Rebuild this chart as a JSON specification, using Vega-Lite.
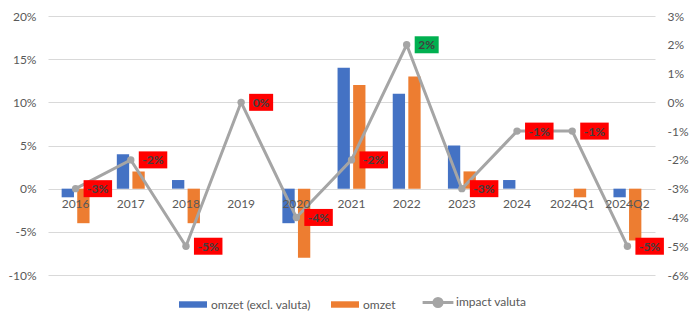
{
  "$schema": "https://vega.github.io/schema/vega-lite/v6.json",
  "width": 607,
  "height": 259,
  "autosize": {"type": "none"},
  "padding": {"left": 48, "top": 16, "right": 42, "bottom": 50},
  "background": "white",
  "config": {
    "locale": {"number": {"decimal": ".", "thousands": ",", "grouping": [3], "currency": ["€", ""], "minus": "-"}},
    "font": "Lato",
    "view": {"stroke": null},
    "axis": {"labelFont": "Lato", "labelFontSize": 12, "labelColor": "#595959", "domain": false, "ticks": false, "tickSize": 0, "title": null}
  },
  "datasets": {
    "bars": [
      {"jaar": "2016", "reeks": "omzet (excl. valuta)", "waarde": -0.01},
      {"jaar": "2016", "reeks": "omzet", "waarde": -0.04},
      {"jaar": "2017", "reeks": "omzet (excl. valuta)", "waarde": 0.04},
      {"jaar": "2017", "reeks": "omzet", "waarde": 0.02},
      {"jaar": "2018", "reeks": "omzet (excl. valuta)", "waarde": 0.01},
      {"jaar": "2018", "reeks": "omzet", "waarde": -0.04},
      {"jaar": "2019", "reeks": "omzet (excl. valuta)", "waarde": 0},
      {"jaar": "2019", "reeks": "omzet", "waarde": 0},
      {"jaar": "2020", "reeks": "omzet (excl. valuta)", "waarde": -0.04},
      {"jaar": "2020", "reeks": "omzet", "waarde": -0.08},
      {"jaar": "2021", "reeks": "omzet (excl. valuta)", "waarde": 0.14},
      {"jaar": "2021", "reeks": "omzet", "waarde": 0.12},
      {"jaar": "2022", "reeks": "omzet (excl. valuta)", "waarde": 0.11},
      {"jaar": "2022", "reeks": "omzet", "waarde": 0.13},
      {"jaar": "2023", "reeks": "omzet (excl. valuta)", "waarde": 0.05},
      {"jaar": "2023", "reeks": "omzet", "waarde": 0.02},
      {"jaar": "2024", "reeks": "omzet (excl. valuta)", "waarde": 0.01},
      {"jaar": "2024", "reeks": "omzet", "waarde": 0},
      {"jaar": "2024Q1", "reeks": "omzet (excl. valuta)", "waarde": 0},
      {"jaar": "2024Q1", "reeks": "omzet", "waarde": -0.01},
      {"jaar": "2024Q2", "reeks": "omzet (excl. valuta)", "waarde": -0.01},
      {"jaar": "2024Q2", "reeks": "omzet", "waarde": -0.06}
    ],
    "impact": [
      {"jaar": "2016", "impact": -0.03},
      {"jaar": "2017", "impact": -0.02},
      {"jaar": "2018", "impact": -0.05},
      {"jaar": "2019", "impact": 0},
      {"jaar": "2020", "impact": -0.04},
      {"jaar": "2021", "impact": -0.02},
      {"jaar": "2022", "impact": 0.02},
      {"jaar": "2023", "impact": -0.03},
      {"jaar": "2024", "impact": -0.01},
      {"jaar": "2024Q1", "impact": -0.01},
      {"jaar": "2024Q2", "impact": -0.05}
    ]
  },
  "layer": [
    {
      "data": {"name": "bars"},
      "mark": {"type": "bar"},
      "encoding": {
        "x": {
          "field": "jaar", "type": "nominal",
          "scale": {"domain": ["2016","2017","2018","2019","2020","2021","2022","2023","2024","2024Q1","2024Q2"], "paddingInner": 0, "paddingOuter": 0},
          "axis": {"labelAngle": 0, "offset": -86.33, "labelPadding": 10, "grid": false, "zindex": 1}
        },
        "xOffset": {"field": "reeks", "type": "nominal", "sort": ["omzet (excl. valuta)", "omzet"], "scale": {"paddingInner": 0.21, "paddingOuter": 0.875}},
        "y": {
          "field": "waarde", "type": "quantitative",
          "scale": {"domain": [-0.1, 0.2], "nice": false, "zero": false},
          "axis": {"values": [-0.1, -0.05, 0, 0.05, 0.1, 0.15, 0.2], "format": ".0%", "grid": true, "gridColor": "#D9D9D9", "gridWidth": 1, "labelPadding": 12}
        },
        "color": {
          "field": "reeks", "type": "nominal",
          "scale": {"domain": ["omzet (excl. valuta)", "omzet", "impact valuta"], "range": ["#4472C4", "#ED7D31", "#A5A5A5"]},
          "legend": {
            "title": null, "orient": "none", "legendX": 139, "legendY": 280, "direction": "horizontal",
            "labelFont": "Lato", "labelFontSize": 12, "labelColor": "#595959",
            "symbolSize": 100, "labelOffset": 12, "columnPadding": 20, "padding": 0,
            "encode": {
              "symbols": {
                "update": {
                  "shape": {"signal": "datum.value === 'impact valuta' ? 'M-1.1,0L1.1,0M0.29,0A0.29,0.29 0 1,1 -0.29,0A0.29,0.29 0 1,1 0.29,0Z' : 'M-1,-0.23L1,-0.23L1,0.23L-1,0.23Z'"},
                  "size": {"value": 784},
                  "strokeWidth": {"signal": "datum.value === 'impact valuta' ? 3 : 0"},
                  "fill": {"scale": "color", "field": "value"},
                  "stroke": {"scale": "color", "field": "value"},
                  "opacity": {"value": 1},
                  "fillOpacity": {"value": 1},
                  "strokeOpacity": {"value": 1}
                }
              }
            }
          }
        }
      }
    },
    {
      "data": {"name": "impact"},
      "encoding": {
        "x": {"field": "jaar", "type": "nominal"},
        "y": {
          "field": "impact", "type": "quantitative",
          "scale": {"domain": [-0.06, 0.03], "nice": false, "zero": false},
          "axis": {"orient": "right", "values": [-0.06, -0.05, -0.04, -0.03, -0.02, -0.01, 0, 0.01, 0.02, 0.03], "format": ".0%", "grid": false, "labelPadding": 12}
        }
      },
      "layer": [
        {
          "mark": {"type": "line", "strokeWidth": 3, "point": {"filled": true, "size": 55}},
          "encoding": {"color": {"datum": "impact valuta"}}
        },
        {
          "mark": {"type": "point", "filled": true, "size": 400, "opacity": 1},
          "encoding": {
            "shape": {"condition": {"test": "datum.impact >= 0", "value": "M0.8,-0.85L3.2,-0.85L3.2,0.85L0.8,0.85Z"}, "value": "M0.8,-0.85L3.65,-0.85L3.65,0.85L0.8,0.85Z"},
            "color": {"condition": {"test": "datum.impact > 0", "value": "#00B050"}, "value": "#FF0000"}
          }
        },
        {
          "mark": {"type": "text", "align": "left", "baseline": "middle", "dx": 11.5, "dy": 0.5, "font": "Lato", "fontSize": 12, "fontWeight": "bold", "color": "#404040"},
          "encoding": {"text": {"field": "impact", "type": "quantitative", "format": ".0%"}}
        }
      ]
    }
  ],
  "resolve": {"scale": {"y": "independent"}}
}
